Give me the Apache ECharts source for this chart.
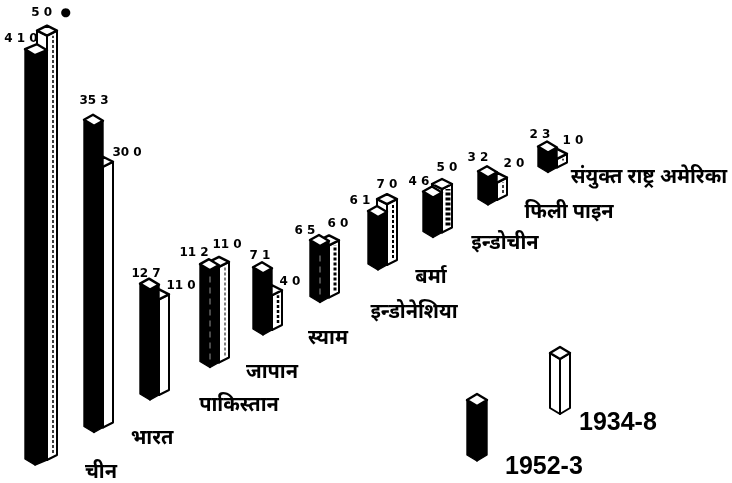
<!DOCTYPE html>
<html><head><meta charset="utf-8">
<style>html,body{margin:0;padding:0;background:#fff}#c{width:732px;height:483px}</style>
<script src="https://cdn.jsdelivr.net/npm/echarts@6/dist/echarts.min.js"></script>
</head><body><div id="c"></div>
<script>
const categories = ['चीन','भारत','पाकिस्तान','जापान','स्याम','इन्डोनेशिया','बर्मा','इन्डोचीन','फिली पाइन','संयुक्त राष्ट्र अमेरिका'];
const values1952 = [410,353,127,112,71,65,61,46,32,23];
const values1934 = [450,300,110,110,40,60,70,50,20,10];
const labels1952 = ['4 1 0','35 3','12 7','11 2','7 1','6 5','6 1','4 6','3 2','2 3'];
const labels1934 = ['5 0  ●','30 0','11 0','11 0','4 0','6 0','7 0','5 0','2 0','1 0'];
const legendNames = ['1952-3','1934-8'];

// layout only (pixel offsets of printed text and hand-drawn irregularities, not data)
const STEP_Y = 32.5;
const nudge = [0,2,1,4,0,0,1,-1,-3,0];
const lab52 = [[-14,-16],[2,-25],[-3,-16],[-12,-17],[-3,-17],[-15,-15],[-17,-16],[-15,-16],[-13,-19],[-8,-18]];
const lab34 = [[7,-23],[26,-14],[23,-14],[12,-22],[18,-13],[9,-21],[1,-19],[4,-21],[14,-19],[16,-18]];
const labName = [[66,7],[60,5.5],[90,5],[66,4.5],[65,3],[94,9.5],[54,7],[71,5.5],[78,7],[101,4.5]];
const hatch = [1.5,0,0,1,2.5,3,2,5,1.5,1.5];
const FONT_NAME = 'bold 20px "Noto Sans",sans-serif';
const FONT_NUM = 'bold 12px "DejaVu Sans",sans-serif';
const FONT_KEY = 'bold 25px "Liberation Sans",sans-serif';

function poly(points, fill, stroke, lw){
  return {type:'polygon',shape:{points},style:{fill,stroke,lineWidth:lw,lineJoin:'round'}};
}
function text(x,y,t,font){
  return {type:'text',x,y,style:{text:t,font,fill:'#000',textAlign:'center',textVerticalAlign:'middle'}};
}
// the original draws China's two columns longer than the others
const stretchFor = (i,isDark)=> i===0 ? (isDark?1.15:1.085) : 1;

function prism(x,y,h,wl,wr,rl,rr,fill,lw){
  const t=y-h;
  return [
    poly([[x,y],[x-wl,y-rl],[x-wl,t-rl],[x,t]],fill,'#000',lw),
    poly([[x,y],[x+wr,y-rr],[x+wr,t-rr],[x,t]],fill,'#000',lw),
    poly([[x,t],[x-wl,t-rl],[x-wl+wr,t-rl-rr],[x+wr,t-rr]],'#fff','#000',2.4)
  ];
}

function renderItem(params, api){
  const i = api.value(0);
  const base = api.coord([i,0]);
  const x = base[0], y = base[1]-i*STEP_Y;
  const bx = x+nudge[i];
  const off = i===0?12:9;
  const h52 = api.size([0,api.value(1)])[1]*stretchFor(i,true);
  const h34 = api.size([0,api.value(2)])[1]*stretchFor(i,false);
  const els = [];
  els.push(...prism(bx+off,y-5,h34,10,10,5,5,'#fff',2));
  if(hatch[i]){
    els.push({type:'line',shape:{x1:bx+off+6,y1:y-12,x2:bx+off+6,y2:y-9-h34+4},
      style:{stroke:'#000',lineWidth:hatch[i],lineDash:[3,2]}});
  }
  els.push(...prism(bx,y,h52,10,off,6,5,'#000',1.4));
  if(i===3||i===5){
    els.push({type:'line',shape:{x1:bx,y1:y-8,x2:bx,y2:y-h52+6},
      style:{stroke:'#bbb',lineWidth:0.8,lineDash:[6,5]}});
  }
  const t52=y-h52, t34=y-5-h34;
  els.push(text(x+lab52[i][0],t52+lab52[i][1],labels1952[i],FONT_NUM));
  els.push(text(x+9+lab34[i][0],t34+lab34[i][1],labels1934[i],FONT_NUM));
  els.push(text(x+labName[i][0],y+labName[i][1],categories[i],FONT_NAME));
  return {type:'group',children:els};
}

function legendKey(x,yBottom,h,fill,lw){
  return {type:'group',children:prism(x,yBottom,h,10,10,6,6,fill,lw)};
}

const option = {
  animation:false,
  backgroundColor:'#fff',
  grid:{left:6.5,width:570,top:0,height:465},
  xAxis:{type:'category',data:categories,show:false},
  yAxis:{type:'value',min:0,max:535,show:false},
  series:[{
    type:'custom',
    renderItem,
    data:categories.map((c,i)=>[i,values1952[i],values1934[i]]),
    encode:{x:0,y:[1,2]},
    clip:false
  }],
  graphic:[
    legendKey(477,461,55,'#000',1.4),
    legendKey(560,414,55,'#fff',2),
    {type:'text',left:505,top:455,style:{text:legendNames[0],font:FONT_KEY,fill:'#000'}},
    {type:'text',left:579,top:411,style:{text:legendNames[1],font:FONT_KEY,fill:'#000'}}
  ]
};
echarts.init(document.getElementById('c')).setOption(option);
</script></body></html>
